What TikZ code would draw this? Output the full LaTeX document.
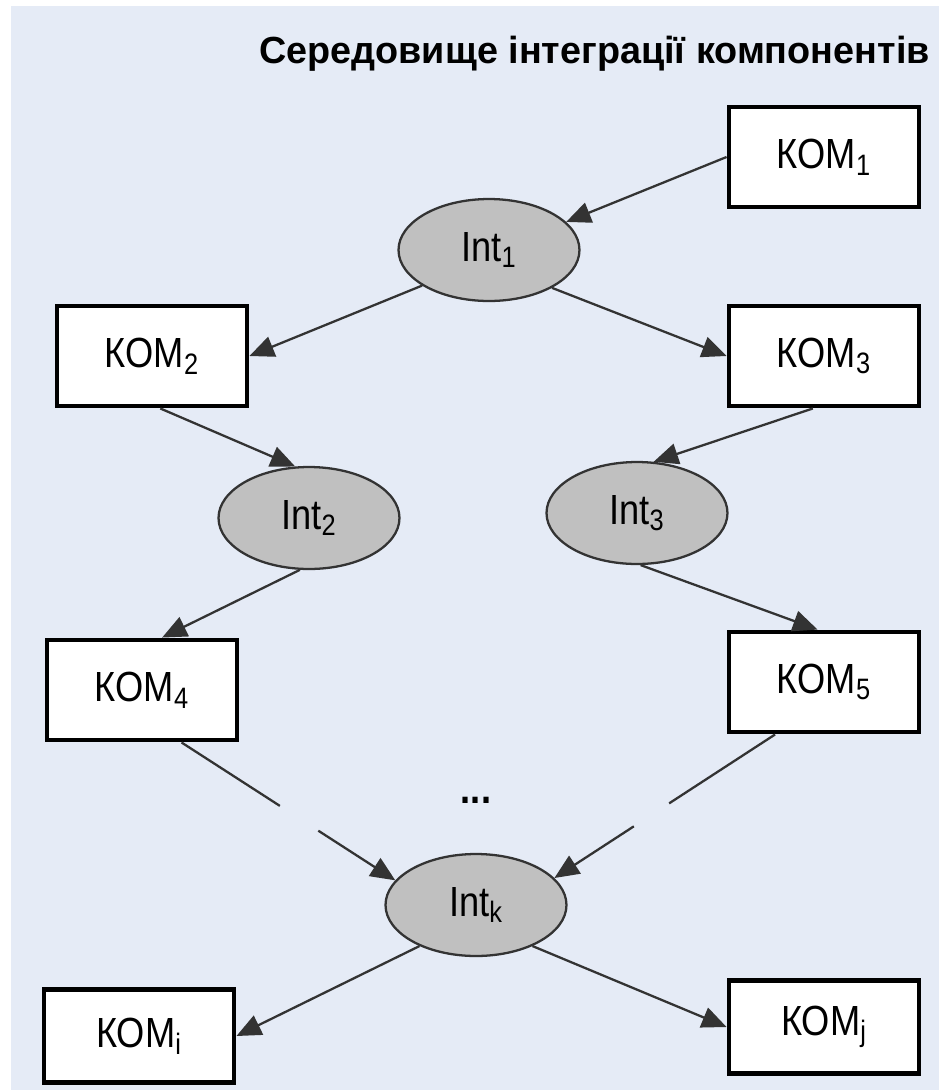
\documentclass[tikz,border=0pt]{standalone}
\usepackage{fontspec}
\setmainfont{Liberation Sans}
\newfontfamily\vuzkyj[FakeStretch=0.86]{Liberation Sans}
\usetikzlibrary{arrows.meta,shapes.geometric,calc}
\definecolor{fonblau}{RGB}{229,235,246}
\definecolor{grisint}{RGB}{192,192,192}

\begin{document}
\begin{tikzpicture}[x=0.02cm, y=-0.02cm,
    >={Triangle[length=14pt,width=12pt]},
    komp/.style={draw=black, line width=2.8pt, fill=white,
        minimum width=3.8cm, minimum height=2cm, inner sep=0pt,
        font=\vuzkyj\fontsize{24}{28}\selectfont},
    integ/.style={ellipse, draw=black!80, line width=1.3pt, fill=grisint,
        minimum width=3.62cm, minimum height=2.04cm, inner sep=0pt,
        font=\vuzkyj\fontsize{24}{28}\selectfont},
    fl/.style={->, line width=1.3pt, draw=black!80}]

% Fons
\useasboundingbox (0,0) rectangle (939,1090);
\fill[white] (0,0) rectangle (939,1090);
\fill[fonblau] (11,6) rectangle (939,1090);

% Titol
\node[anchor=base east, inner sep=0pt, font=\bfseries\fontsize{21.5}{26}\selectfont]
    (titol) at (930,63) {Середовище інтеграції компонентів};

% Components
\node[komp] (kom1) at (824,157) {КОМ\textsubscript{1}};
\node[komp] (kom2) at (152,356) {КОМ\textsubscript{2}};
\node[komp] (kom3) at (824,356) {КОМ\textsubscript{3}};
\node[komp] (kom4) at (142,690) {КОМ\textsubscript{4}};
\node[komp] (kom5) at (824,682) {КОМ\textsubscript{5}};
\node[komp, minimum height=1.85cm] (komi) at (139,1036) {КОМ\textsubscript{i}};
\node[komp, minimum height=1.85cm] (komj) at (824,1027) {КОМ\textsubscript{j}};

% Integracions
\node[integ] (int1) at (489,250) {Int\textsubscript{1}};
\node[integ] (int2) at (309,518) {Int\textsubscript{2}};
\node[integ] (int3) at (637,513) {Int\textsubscript{3}};
\node[integ] (intk) at (476,905) {Int\textsubscript{k}};

\node[font=\vuzkyj\bfseries\fontsize{24}{28}\selectfont] (punts) at (476,800) {...};

% Fletxes
\draw[fl] (kom1.west) -- (int1.20);
\draw[fl] (int1.208) -- (kom2.east);
\draw[fl] (int1.-31) -- (kom3.west);
\draw[fl] (kom2.-81) -- (int2.105);
\draw[fl] (kom3.-102) -- (int3.72);
\draw[fl] (int2.260) -- (kom4.69);
\draw[fl] (int3.-86) -- (kom5.97);
\draw[fl] (kom4.-53) -- ($(kom4.-53)!.46!(intk.163)$)
    ($(kom4.-53)!.64!(intk.163)$) -- (intk.163);
\draw[fl] (kom5.-133) -- ($(kom5.-133)!.48!(intk.19)$)
    ($(kom5.-133)!.64!(intk.19)$) -- (intk.19);
\draw[fl] (intk.216) -- (komi.east);
\draw[fl] (intk.-36) -- (komj.west);

\end{tikzpicture}
\end{document}
